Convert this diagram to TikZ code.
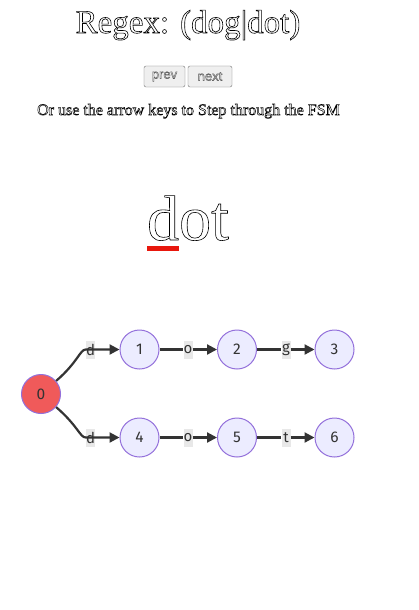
\documentclass[tikz,border=0pt]{standalone}
\usepackage{fontspec}
\setmainfont{Liberation Serif}
\newfontfamily\uisans{Liberation Sans}
\newfontfamily\graphfont{Fira Sans}
\usetikzlibrary{arrows.meta}
\definecolor{nodefill}{HTML}{ECECFF}
\definecolor{nodeborder}{HTML}{9370DB}
\definecolor{startfill}{HTML}{F05A5A}
\definecolor{edgecol}{HTML}{333333}
\definecolor{labelbg}{HTML}{E8E8E8}
\definecolor{btnfill}{HTML}{EFEFEF}
\definecolor{btnborder}{HTML}{767676}
\definecolor{btntext}{HTML}{555555}
\definecolor{markred}{HTML}{E8170D}
\newcommand\outl[1]{\special{pdf:literal direct 1 Tr}#1\special{pdf:literal direct 0 Tr}}
\tikzset{
  state/.style={circle, draw=nodeborder, fill=nodefill, line width=1pt,
    minimum size=39pt, inner sep=0pt, text=edgecol,
    font=\graphfont\fontsize{15.5}{17}\selectfont},
  startstate/.style={state, fill=startfill},
  elabel/.style={fill=labelbg, inner sep=0pt, minimum width=9pt,
    minimum height=18pt, text=edgecol,
    font=\graphfont\fontsize{15}{17}\selectfont},
  edge/.style={draw=edgecol, line width=2.2pt,
    -{Triangle[length=10pt,width=10pt]}},
  button/.style={draw=btnborder, fill=btnfill, rounded corners=2pt,
    line width=0.4pt, text=btntext, inner sep=0pt,
    font=\uisans\fontsize{13}{15}\selectfont},
  outlined/.style={inner sep=0pt, line width=#1}
}
\begin{document}
\begin{tikzpicture}[x=1pt,y=-1pt]
\useasboundingbox[fill=white] (0,0) rectangle (418,610);
% title
\node[outlined=0.6pt, anchor=base, font=\fontsize{33}{36}\selectfont] (title) at (188,33) {\outl{Regex: (dog|dot)}};
% buttons
\node[button, minimum width=41pt, minimum height=21pt] (prev) at (164.5,76.5) {\outl{prev}};
\node[button, minimum width=44pt, minimum height=21pt] (next) at (210,76.5) {\outl{next}};
% instructions
\node[outlined=0.5pt, anchor=base, font=\fontsize{16}{18}\selectfont] (instr) at (188.5,115) {\outl{Or use the arrow keys to Step through the FSM}};
% current word
\node[outlined=0.6pt, anchor=base, font=\fontsize{64}{70}\selectfont] (word) at (188,240) {\outl{dot}};
\fill[markred] (147,246) rectangle (179,251);
% states
\node[startstate] (n0) at (41,394) {0};
\node[state] (n1) at (139.5,349.5) {1};
\node[state] (n2) at (237,349.5) {2};
\node[state] (n3) at (334.5,349.5) {3};
\node[state] (n4) at (139.5,437.5) {4};
\node[state] (n5) at (237,437.5) {5};
\node[state] (n6) at (334.5,437.5) {6};
% edge labels
\node[elabel] (ld1) at (90.5,349.5) {d};
\node[elabel] (lo1) at (188,349.5) {o};
\node[elabel] (lg1) at (286,349.5) {g};
\node[elabel] (ld4) at (90.5,437.5) {d};
\node[elabel] (lo4) at (188,437.5) {o};
\node[elabel] (lt4) at (286,437.5) {t};
% edges
\draw[edge] (n0) .. controls (78,362) and (80,349.5) .. (ld1.west) -- (n1);
\draw[edge] (n0) .. controls (78,426) and (80,437.5) .. (ld4.west) -- (n4);
\draw[edge] (n1) -- (lo1) -- (n2);
\draw[edge] (n2) -- (lg1) -- (n3);
\draw[edge] (n4) -- (lo4) -- (n5);
\draw[edge] (n5) -- (lt4) -- (n6);
\end{tikzpicture}
\end{document}
